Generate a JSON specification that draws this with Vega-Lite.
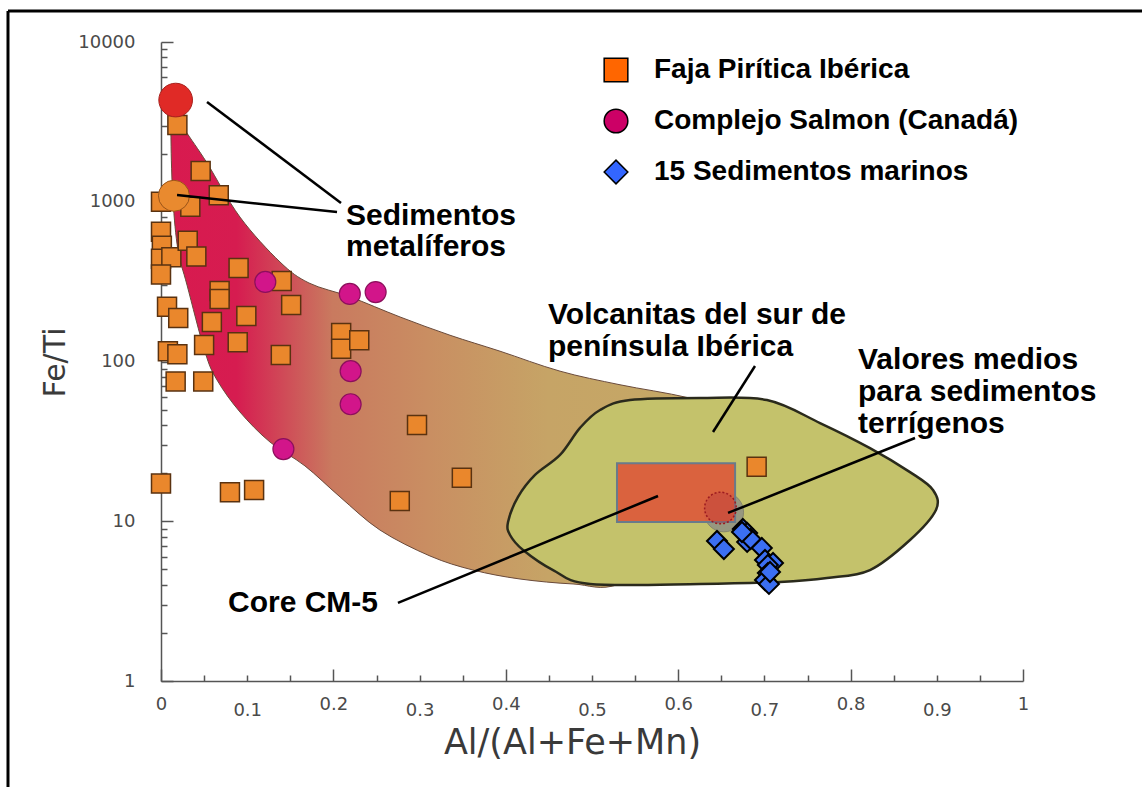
{
  "$schema": "https://vega.github.io/schema/vega-lite/v6.json",
  "width": 862,
  "height": 639,
  "autosize": {"type": "none"},
  "padding": {"left": 161, "top": 42, "right": 119, "bottom": 106},
  "background": "white",
  "config": {"view": {"stroke": null}, "font": "Liberation Sans"},
  "layer": [
    {
      "data": {"values": [{"k": 1}]},
      "mark": {"type": "rule", "color": "black", "strokeWidth": 3},
      "encoding": {
        "x": {"datum": -0.1775, "type": "quantitative", "title": "Al/(Al+Fe+Mn)"},
        "y": {"datum": 15630, "type": "quantitative", "title": "Fe/Ti"},
        "y2": {"datum": 0.1}
      }
    },
    {
      "data": {"values": [{"k": 1}]},
      "mark": {"type": "rule", "color": "black", "strokeWidth": 3},
      "encoding": {
        "x": {"datum": -0.1775, "type": "quantitative", "title": "Al/(Al+Fe+Mn)"},
        "x2": {"datum": 1.3},
        "y": {"datum": 15630, "type": "quantitative", "title": "Fe/Ti"}
      }
    },
    {
      "encoding": {
        "x": {
          "field": "x", "type": "quantitative",
          "scale": {"domain": [0, 1], "nice": false, "zero": false},
          "axis": {
            "title": "Al/(Al+Fe+Mn)",
            "titleFont": "DejaVu Sans", "titleFontSize": 35, "titleFontWeight": "normal", "titleColor": "#3a3a3a",
            "titleX": 411, "titleY": 61, "titleBaseline": "middle", "titleAlign": "center", "titleAnchor": null,
            "values": [0,0.05,0.1,0.15,0.2,0.25,0.3,0.35,0.4,0.45,0.5,0.55,0.6,0.65,0.7,0.75,0.8,0.85,0.9,0.95,1],
            "labelExpr": "round(datum.value*100) % 10 == 0 ? format(datum.value, '~g') : ''",
            "labelOverlap": false, "labelFlush": false,
            "labelFont": "DejaVu Sans", "labelFontSize": 18, "labelColor": "#4a4a4a", "labelPadding": 26,
            "domainColor": "#555555", "domainWidth": 1.5,
            "tickColor": "#555555", "tickWidth": 1.5,
            "tickSize": {"condition": {"test": "round(datum.value*100) % 20 == 0", "value": -12}, "value": -6},
            "grid": false
          }
        },
        "y": {
          "field": "y", "type": "quantitative",
          "scale": {"type": "log", "domain": [1, 10000], "nice": false},
          "axis": {
            "title": "Fe/Ti",
            "titleFont": "DejaVu Sans", "titleFontSize": 30, "titleFontWeight": "normal", "titleColor": "#3a3a3a",
            "titleX": -106, "titleY": 320, "titleBaseline": "middle", "titleAlign": "center", "titleAngle": -90, "titleAnchor": null,
            "values": [1,2,3,4,5,6,7,8,9,10,20,30,40,50,60,70,80,90,100,200,300,400,500,600,700,800,900,1000,2000,3000,4000,5000,6000,7000,8000,9000,10000],
            "labelExpr": "indexof([1,10,100,1000,10000], datum.value) >= 0 ? format(datum.value, 'd') : ''",
            "labelOverlap": false, "labelFlush": false,
            "labelFont": "DejaVu Sans", "labelFontSize": 18, "labelColor": "#4a4a4a", "labelPadding": 38,
            "domainColor": "#555555", "domainWidth": 1.5,
            "tickColor": "#555555", "tickWidth": 1.5,
            "tickSize": {"condition": {"test": "indexof([1,10,100,1000,10000], datum.value) >= 0", "value": -12}, "value": -6},
            "grid": false
          }
        }
      },
      "layer": [
        {
          "data": {"values": [
            {"i":1,"x":0.0128,"y":3863},{"i":2,"x":0.0278,"y":2813},{"i":3,"x":0.0534,"y":1748},{"i":4,"x":0.0916,"y":802},
            {"i":5,"x":0.138,"y":420},{"i":6,"x":0.1717,"y":310},{"i":7,"x":0.2193,"y":254},{"i":8,"x":0.2773,"y":190},
            {"i":9,"x":0.3353,"y":146},{"i":10,"x":0.3933,"y":116},{"i":11,"x":0.4629,"y":87},{"i":12,"x":0.5325,"y":71.5},
            {"i":13,"x":0.6137,"y":59},{"i":14,"x":0.7065,"y":43},{"i":15,"x":0.6253,"y":7.63},{"i":16,"x":0.5325,"y":4.05},
            {"i":17,"x":0.478,"y":4.05},{"i":18,"x":0.4165,"y":4.35},{"i":19,"x":0.362,"y":4.95},{"i":20,"x":0.3121,"y":6.06},
            {"i":21,"x":0.254,"y":8.81},{"i":22,"x":0.2077,"y":14.2},{"i":23,"x":0.167,"y":22.2},{"i":24,"x":0.1265,"y":31.3},
            {"i":25,"x":0.0916,"y":48.3},{"i":26,"x":0.065,"y":76.6},{"i":27,"x":0.051,"y":115},{"i":28,"x":0.0302,"y":301},
            {"i":29,"x":0.0197,"y":499},{"i":30,"x":0.0139,"y":1026},{"i":31,"x":0.0116,"y":2435}
          ]},
          "mark": {
            "type": "line", "filled": true, "interpolate": "cardinal-closed",
            "fill": {"gradient": "linear", "x1": 0, "y1": 0, "x2": 1, "y2": 0, "stops": [
              {"offset": 0, "color": "#d81a4f"}, {"offset": 0.11, "color": "#d61c50"},
              {"offset": 0.27, "color": "#c97a5f"}, {"offset": 0.43, "color": "#c98e62"},
              {"offset": 0.63, "color": "#c6a466"}, {"offset": 1, "color": "#c4aa66"}]},
            "stroke": "#6a4a3a", "strokeWidth": 1
          },
          "encoding": {"order": {"field": "i", "type": "quantitative"}}
        },
        {
          "data": {"values": [
            {"i":1,"x":0.4026,"y":9.89},{"i":2,"x":0.4142,"y":14.19},{"i":3,"x":0.4339,"y":19.48},{"i":4,"x":0.4629,"y":26},
            {"i":5,"x":0.4861,"y":38.4},{"i":6,"x":0.5093,"y":49.7},{"i":7,"x":0.5441,"y":57.4},{"i":8,"x":0.6253,"y":59.1},
            {"i":9,"x":0.703,"y":57.4},{"i":10,"x":0.7645,"y":41.2},{"i":11,"x":0.8225,"y":28.7},{"i":12,"x":0.8689,"y":20.3},
            {"i":13,"x":0.8956,"y":15.7},{"i":14,"x":0.899,"y":11.76},{"i":15,"x":0.8689,"y":7.63},{"i":16,"x":0.8225,"y":4.95},
            {"i":17,"x":0.7726,"y":4.41},{"i":18,"x":0.7181,"y":4.17},{"i":19,"x":0.6253,"y":4.05},{"i":20,"x":0.4977,"y":4.05},
            {"i":21,"x":0.4548,"y":4.95},{"i":22,"x":0.42,"y":6.61},{"i":23,"x":0.4049,"y":8.2}
          ]},
          "mark": {"type": "line", "filled": true, "interpolate": "cardinal-closed", "fill": "#c4c26b", "stroke": "#2a2a1c", "strokeWidth": 2.5},
          "encoding": {"order": {"field": "i", "type": "quantitative"}}
        },
        {
          "data": {"values": [{"x": 0.653, "y": 11.4}]},
          "mark": {"type": "point", "shape": "circle", "filled": true, "fill": "#979780", "stroke": "#85856c", "strokeWidth": 1, "size": 1550, "opacity": 1}
        },
        {
          "data": {"values": [{"x": 0.529, "x2": 0.666, "y": 9.9, "y2": 23.1}]},
          "mark": {"type": "rect", "fill": "#db5a3b", "fillOpacity": 0.93, "stroke": "#6a7a8a", "strokeWidth": 2},
          "encoding": {"x2": {"field": "x2"}, "y2": {"field": "y2"}}
        },
        {
          "data": {"values": [{"x": 0.649, "y": 12.1}]},
          "mark": {"type": "point", "shape": "circle", "filled": false, "fill": "#b83a3a", "fillOpacity": 0.35, "stroke": "#9c1a20", "strokeWidth": 1.5, "strokeDash": [2, 2], "size": 1000, "opacity": 1}
        },
        {
          "data": {"values": [
            {"x":0.019,"y":3020},{"x":0.046,"y":1560},{"x":0.067,"y":1100},{"x":0.0,"y":1000},{"x":0.034,"y":930},
            {"x":0.0,"y":650},{"x":0.001,"y":530},{"x":0.0,"y":440},{"x":0.012,"y":450},{"x":0.0,"y":350},
            {"x":0.007,"y":220},{"x":0.02,"y":187},{"x":0.008,"y":116},{"x":0.019,"y":111},{"x":0.017,"y":75},
            {"x":0.049,"y":75},{"x":0.0,"y":17.2},{"x":0.031,"y":570},{"x":0.041,"y":455},{"x":0.09,"y":385},
            {"x":0.068,"y":276},{"x":0.068,"y":246},{"x":0.059,"y":177},{"x":0.099,"y":193},{"x":0.151,"y":226},
            {"x":0.14,"y":319},{"x":0.05,"y":127},{"x":0.089,"y":132},{"x":0.139,"y":110},{"x":0.209,"y":151},
            {"x":0.209,"y":120},{"x":0.23,"y":136},{"x":0.08,"y":15.2},{"x":0.108,"y":15.7},{"x":0.297,"y":40},
            {"x":0.349,"y":18.7},{"x":0.277,"y":13.4},{"x":0.691,"y":21.9}
          ]},
          "mark": {"type": "point", "shape": "square", "filled": true, "fill": "#ea872c", "stroke": "#5a3210", "strokeWidth": 1.5, "size": 361, "opacity": 1}
        },
        {
          "data": {"values": [
            {"x":0.121,"y":315},{"x":0.219,"y":265},{"x":0.249,"y":272},{"x":0.22,"y":87},{"x":0.22,"y":54},{"x":0.142,"y":28.3}
          ]},
          "mark": {"type": "point", "shape": "circle", "filled": true, "fill": "#d2158a", "stroke": "#8c0f5c", "strokeWidth": 1.2, "size": 440, "opacity": 1}
        },
        {
          "data": {"values": [{"x": 0.017, "y": 4330}]},
          "mark": {"type": "point", "shape": "circle", "filled": true, "fill": "#e02a26", "stroke": "#a8201c", "strokeWidth": 1, "size": 1134, "opacity": 1}
        },
        {
          "data": {"values": [{"x": 0.015, "y": 1090}]},
          "mark": {"type": "point", "shape": "circle", "filled": true, "fill": "#e98a2f", "stroke": "#9a5418", "strokeWidth": 1, "size": 962, "opacity": 1}
        },
        {
          "data": {"values": [
            {"x":0.645,"y":7.52},{"x":0.653,"y":6.7},{"x":0.675,"y":8.94},{"x":0.68,"y":8.44},{"x":0.68,"y":7.42},
            {"x":0.684,"y":7.74},{"x":0.697,"y":6.8},{"x":0.7007,"y":5.72},{"x":0.71,"y":5.48},{"x":0.704,"y":5.32},
            {"x":0.704,"y":4.74},{"x":0.7007,"y":4.29},{"x":0.7053,"y":4.05},{"x":0.674,"y":8.56},{"x":0.7065,"y":4.81}
          ]},
          "mark": {"type": "point", "shape": "diamond", "filled": true, "fill": "#3b6ff2", "stroke": "black", "strokeWidth": 2, "size": 400, "opacity": 1}
        },
        {
          "data": {"values": [
            {"id":"a","o":0,"x":0.0534,"y":4211},{"id":"a","o":1,"x":0.2088,"y":982},
            {"id":"b","o":0,"x":0.0186,"y":1102},{"id":"b","o":1,"x":0.2042,"y":863},
            {"id":"c","o":0,"x":0.6404,"y":36.2},{"id":"c","o":1,"x":0.6891,"y":93.7},
            {"id":"d","o":0,"x":0.6578,"y":11.27},{"id":"d","o":1,"x":0.8747,"y":33.2},
            {"id":"e","o":0,"x":0.2749,"y":3.08},{"id":"e","o":1,"x":0.5766,"y":14.39}
          ]},
          "mark": {"type": "line", "color": "black", "strokeWidth": 2.5},
          "encoding": {"detail": {"field": "id", "type": "nominal"}, "order": {"field": "o", "type": "quantitative"}}
        },
        {
          "data": {"values": [
            {"t":"Sedimentos","x":0.2146,"y":814},
            {"t":"metalíferos","x":0.2146,"y":521},
            {"t":"Volcanitas del sur de","x":0.449,"y":195.5},
            {"t":"península Ibérica","x":0.449,"y":123},
            {"t":"Valores medios","x":0.8086,"y":102},
            {"t":"para sedimentos","x":0.8086,"y":64.4},
            {"t":"terrígenos","x":0.8086,"y":40.6},
            {"t":"Core CM-5","x":0.0777,"y":3.08}
          ]},
          "mark": {"type": "text", "align": "left", "baseline": "middle", "font": "Liberation Sans", "fontWeight": "bold", "fontSize": 30, "color": "black"},
          "encoding": {"text": {"field": "t", "type": "nominal"}}
        },
        {
          "data": {"values": [
            {"series": "Faja Pirítica Ibérica"},
            {"series": "Complejo Salmon (Canadá)"},
            {"series": "15 Sedimentos marinos"}
          ]},
          "mark": {"type": "point", "filled": true, "size": 0, "opacity": 1, "stroke": "black", "strokeWidth": 1.5},
          "encoding": {
            "fill": {"field": "series", "type": "nominal",
              "scale": {"domain": ["Faja Pirítica Ibérica", "Complejo Salmon (Canadá)", "15 Sedimentos marinos"], "range": ["#ff6600", "#cc0066", "#3366ff"]},
              "legend": {
                "title": null, "orient": "none", "legendX": 441, "legendY": 14, "padding": 0,
                "symbolSize": 560, "symbolStrokeColor": "black", "symbolStrokeWidth": 1.5, "symbolOpacity": 1,
                "labelFont": "Liberation Sans", "labelFontWeight": "bold", "labelFontSize": 28, "labelColor": "black",
                "labelOffset": 24, "rowPadding": 21, "labelLimit": 600
              }
            },
            "shape": {"field": "series", "type": "nominal",
              "scale": {"domain": ["Faja Pirítica Ibérica", "Complejo Salmon (Canadá)", "15 Sedimentos marinos"], "range": ["square", "circle", "diamond"]}
            }
          }
        }
      ]
    }
  ]
}
